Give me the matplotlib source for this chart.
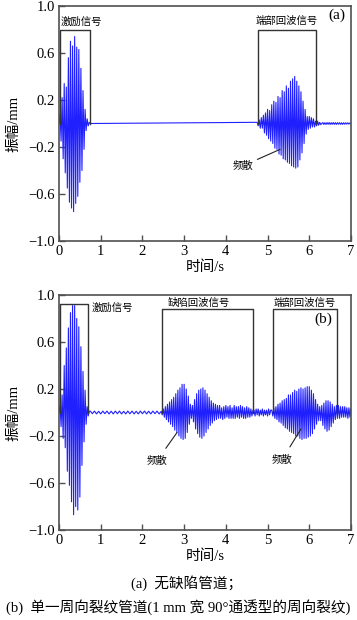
import numpy as np
import matplotlib
matplotlib.use("Agg")
import matplotlib.pyplot as plt

plt.rcParams['font.family'] = ['Liberation Serif', 'Noto Sans CJK SC']
plt.rcParams['axes.unicode_minus'] = True

# --- waveform peaks (signed values read per half-cycle) ---
HALF = 0.025

# (a) intact pipe
exc_a = [0.0, 0.08, -0.15, 0.22, -0.30, 0.34, -0.42, 0.31, -0.55, 0.56, -0.67, 0.70,
         -0.72, 0.66, -0.75, 0.74, -0.68, 0.65, -0.62, 0.63, -0.50, 0.47, -0.40, 0.28,
         -0.22, 0.12, -0.06, 0.04, -0.02, 0.01, 0.0]
echo_a = [0.01, -0.02, 0.03, -0.04, 0.05, -0.04, 0.07, -0.08, 0.09, -0.10, 0.12, -0.13,
          0.11, -0.15, 0.16, -0.17, 0.19, -0.21, 0.18, -0.22, 0.23, -0.26, 0.22, -0.27,
          0.28, -0.30, 0.27, -0.31, 0.32, -0.33, 0.30, -0.34, 0.36, -0.36, 0.38, -0.37,
          0.40, -0.38, 0.36, -0.37, 0.32, -0.31, 0.27, -0.25, 0.19, -0.17, 0.12, -0.09,
          0.06, -0.05, 0.06, -0.04, 0.05, -0.03, 0.04, -0.03, 0.02, -0.02, 0.02, -0.015,
          0.01, -0.01, 0.0]
tail_a = [0.008, -0.008, 0.007, -0.008, 0.008, -0.007, 0.008, -0.008, 0.007, -0.007,
          0.008, -0.007, 0.007, -0.008, 0.007, -0.006, 0.007, -0.007, 0.006, -0.007,
          0.006, -0.006, 0.006, -0.005, 0.006, -0.005, 0.005]

# (b) pipe with one circumferential crack
exc_b = [0.0, 0.06, -0.12, 0.15, -0.22, 0.40, -0.30, 0.55, -0.50, 0.72, -0.62, 0.85,
         -0.76, 0.91, -0.87, 0.91, -0.80, 0.80, -0.83, 0.73, -0.72, 0.56, -0.45, 0.35,
         -0.25, 0.19, -0.10, 0.05, -0.03, 0.01]
ripple_b = [0.012, -0.010, 0.012, -0.012, 0.010, -0.012, 0.012, -0.010, 0.012, -0.012,
            0.011, -0.012, 0.012, -0.010, 0.012, -0.012, 0.010, -0.012, 0.012, -0.011,
            0.012, -0.012, 0.010, -0.012, 0.012, -0.010, 0.012, -0.012, 0.011, -0.012,
            0.012, -0.010, 0.012, -0.012]
defect_b = [0.01, -0.02, 0.03, -0.04, 0.05, -0.06, 0.07, -0.08, 0.09, -0.10, 0.11, -0.12,
            0.13, -0.15, 0.16, -0.17, 0.19, -0.20, 0.21, -0.22, 0.24, -0.23, 0.24, -0.22,
            0.20, -0.17, 0.14, -0.10, 0.07, -0.05, 0.06, -0.08, 0.11, -0.14, 0.16, -0.18,
            0.19, -0.21, 0.20, -0.22, 0.21, -0.20, 0.19, -0.17, 0.16, -0.14, 0.13, -0.11,
            0.10, -0.09, 0.08, -0.07, 0.07, -0.06, 0.06,
            -0.05, 0.06, -0.05, 0.04, -0.06, 0.05, -0.05, 0.06, -0.04, 0.05, -0.05, 0.06,
            -0.05, 0.04, -0.05, 0.06, -0.05, 0.05, -0.04, 0.05, -0.05, 0.06, -0.04, 0.05,
            -0.05, 0.04, -0.05, 0.05, -0.04, 0.04, -0.04, 0.03, -0.03, 0.02]
gap_b = [0.02, -0.03, 0.03, -0.02, 0.03, -0.03, 0.02, -0.02, 0.03, -0.03, 0.02, -0.02,
         0.02, -0.03, 0.03, -0.02, 0.02]
end_b = [0.02, -0.03, 0.04, -0.05, 0.05, -0.06, 0.07, -0.08, 0.08, -0.09, 0.10, -0.11,
         0.11, -0.13, 0.12, -0.14, 0.15, -0.16, 0.15, -0.17, 0.17, -0.18, 0.19, -0.20,
         0.18, -0.20, 0.20, -0.22, 0.21, -0.23, 0.20, -0.22, 0.21, -0.22, 0.22, -0.21,
         0.22, -0.20, 0.19, -0.18, 0.16, -0.14, 0.11, -0.10, 0.07, -0.07, 0.05, -0.07,
         0.06, -0.11, 0.08, -0.14, 0.10, -0.16, 0.10, -0.15, 0.09, -0.12, 0.07, -0.09,
         0.05, -0.06, 0.06, -0.05, 0.06, -0.05, 0.05, -0.04, 0.05, -0.04, 0.05, -0.04,
         0.04, -0.05, 0.04, -0.04, 0.03]

# segment start times and sample spacing
segments_a = [(0.0, HALF, exc_a), (4.75, HALF, echo_a), (6.325, HALF, tail_a)]
segments_b = [(0.0, HALF, exc_b), (0.75, 0.05, ripple_b), (2.45, HALF, defect_b),
              (4.675, HALF, gap_b), (5.10, HALF, end_b)]

# annotation brackets: (x_left, x_right, top)
brackets_a = [(0.03, 0.74, 0.80), (4.76, 6.16, 0.80)]
brackets_b = [(0.02, 0.69, 0.92), (2.46, 4.64, 0.88), (5.12, 6.67, 0.88)]

yticks = [-1.0, -0.6, -0.2, 0.2, 0.6, 1.0]
xticks = [0, 1, 2, 3, 4, 5, 6, 7]


def build(segments):
    ts, ys = [], []
    for t0, dt, vals in segments:
        ts.append(t0 + dt * np.arange(len(vals)))
        ys.append(np.asarray(vals))
    t = np.concatenate(ts + [np.array([7.0])])
    y = np.concatenate(ys + [np.array([0.0])])
    return t, y


fig = plt.figure(figsize=(3.57, 6.2), dpi=100)
ax_a = fig.add_axes([59 / 357, 1 - 241 / 620, 292 / 357, 235 / 620])
ax_b = fig.add_axes([59 / 357, 1 - 530 / 620, 292 / 357, 235 / 620])

cjk = ['Noto Sans CJK SC']
spine_col = '#505050'

for ax, segs, brs in [(ax_a, segments_a, brackets_a), (ax_b, segments_b, brackets_b)]:
    t, y = build(segs)
    ax.plot(t, y, color='#2020ff', lw=0.8)
    ax.set_xlim(0, 7)
    ax.set_ylim(-1.0, 1.0)
    ax.set_xticks(xticks)
    ax.set_yticks(yticks)
    ax.set_yticklabels([f"{v:.1f}".replace('-', '\u2212') for v in yticks])
    ax.tick_params(direction='in', length=4, width=1, colors='black',
                   labelsize=10.5, pad=3, top=False, right=False)
    ax.tick_params(axis='both', color=spine_col)
    for s in ax.spines.values():
        s.set_color(spine_col)
        s.set_linewidth(1.2)
    for x0, x1, top in brs:
        ax.plot([x0, x0, x1, x1], [0, top, top, 0], color='#333333', lw=1.0)
    ax.set_ylabel('振幅/mm', fontsize=10.5)
    ax.yaxis.label.set_va('center')
    ax.yaxis.set_label_coords(-0.155, 0.5)
    ax.set_xlabel('时间/s', fontsize=10.5)
    ax.xaxis.label.set_va('center')
    ax.xaxis.set_label_coords(0.5, -0.11)

# (a) labels
ax_a.text(0.05, 0.87, '激励信号', family=cjk, fontsize=7.5, ha='left', va='center')
ax_a.text(5.47, 0.87, '端部回波信号', family=cjk, fontsize=7.5, ha='center', va='center')
ax_a.text(6.66, 0.92, '(a)', fontsize=11, ha='center', va='center')
ax_a.annotate('频散', xy=(5.30, -0.22), xytext=(4.66, -0.36), family=cjk, fontsize=7.5,
              ha='right', va='center',
              arrowprops=dict(arrowstyle='-', color='#222222', lw=0.8, shrinkA=1, shrinkB=0))

# (b) labels
ax_b.text(0.79, 0.89, '激励信号', family=cjk, fontsize=7.5, ha='left', va='center')
ax_b.text(3.35, 0.93, '缺陷回波信号', family=cjk, fontsize=7.5, ha='center', va='center')
ax_b.text(5.88, 0.93, '端部回波信号', family=cjk, fontsize=7.5, ha='center', va='center')
ax_b.text(6.33, 0.79, '(b)', fontsize=11, ha='center', va='center')
ax_b.annotate('频散', xy=(2.83, -0.17), xytext=(2.35, -0.41), family=cjk, fontsize=7.5,
              ha='center', va='center',
              arrowprops=dict(arrowstyle='-', color='#222222', lw=0.8, shrinkA=4, shrinkB=0))
ax_b.annotate('频散', xy=(5.80, -0.14), xytext=(5.35, -0.40), family=cjk, fontsize=7.5,
              ha='center', va='center',
              arrowprops=dict(arrowstyle='-', color='#222222', lw=0.8, shrinkA=4, shrinkB=0))

# captions
fig.text(187 / 357, 1 - 583 / 620, '(a)  无缺陷管道；', fontsize=10.5, ha='center', va='center')
fig.text(178 / 357, 1 - 607 / 620, '(b)  单一周向裂纹管道(1 mm 宽 90°通透型的周向裂纹)',
         fontsize=10.5, ha='center', va='center')

fig.savefig('out.png', dpi=100)
